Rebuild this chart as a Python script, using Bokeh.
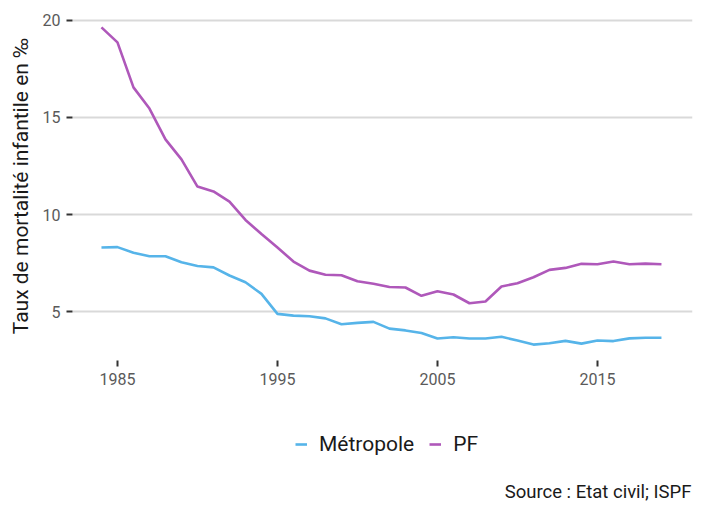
from bokeh.plotting import figure
from bokeh.layouts import column
from bokeh.models import Range1d, FixedTicker, Legend, LegendItem, Label
from bokeh.embed import file_html
from bokeh.resources import INLINE

years = list(range(1984, 2020))
pf = [19.64, 18.87, 16.55, 15.46, 13.87, 12.84, 11.44, 11.19, 10.67, 9.72,
      9.00, 8.30, 7.58, 7.11, 6.90, 6.87, 6.56, 6.43, 6.27, 6.24,
      5.81, 6.05, 5.88, 5.43, 5.52, 6.29, 6.46, 6.77, 7.15, 7.25,
      7.46, 7.44, 7.58, 7.44, 7.47, 7.44]
metro = [8.30, 8.32, 8.03, 7.85, 7.85, 7.54, 7.35, 7.28, 6.86, 6.51,
         5.91, 4.88, 4.79, 4.76, 4.65, 4.35, 4.42, 4.47, 4.12, 4.03,
         3.90, 3.61, 3.68, 3.61, 3.61, 3.70, 3.51, 3.30, 3.37, 3.49,
         3.35, 3.51, 3.48, 3.62, 3.65, 3.65]
x_ticks = [1985, 1995, 2005, 2015]
y_ticks = [5, 10, 15, 20]
series_names = ["Métropole", "PF"]
colors = ["#56B4E9", "#AF58BA"]
FONT = "Roboto"

xr = Range1d(1982.19, 2020.94)
yr = Range1d(2.48, 20.46)

p = figure(width=710, height=395, output_backend="svg", toolbar_location=None,
           x_range=xr, y_range=yr,
           min_border_left=72, min_border_right=18, min_border_top=11,
           min_border_bottom=35, outline_line_color=None)
p.background_fill_color = "white"
p.border_fill_color = "white"

p.line(years, metro, line_color=colors[0], line_width=2.6)
p.line(years, pf, line_color=colors[1], line_width=2.6)

p.xgrid.visible = False
p.ygrid.grid_line_color = "#d9d9d9"
p.ygrid.grid_line_width = 2
p.ygrid.ticker = FixedTicker(ticks=y_ticks)

for ax in (p.xaxis[0], p.yaxis[0]):
    ax.axis_line_color = None
    ax.major_tick_in = 0
    ax.major_tick_out = 6
    ax.major_tick_line_color = "#333333"
    ax.major_tick_line_width = 2
    ax.minor_tick_line_color = None
    ax.major_label_text_font = FONT
    ax.major_label_text_font_size = "16px"
    ax.major_label_text_color = "#5a5a5a"
    ax.major_label_standoff = 6

p.xaxis.ticker = FixedTicker(ticks=x_ticks)
p.yaxis.ticker = FixedTicker(ticks=y_ticks)
p.yaxis.axis_label = "Taux de mortalité infantile en ‰"
p.yaxis.axis_label_text_font = FONT
p.yaxis.axis_label_text_font_size = "21px"
p.yaxis.axis_label_text_font_style = "normal"
p.yaxis.axis_label_text_color = "#1a1a1a"
p.yaxis.axis_label_standoff = 7

# Legend / caption panel (same data, hidden lines used only for legend keys)
q = figure(width=710, height=110, output_backend="svg", toolbar_location=None,
           x_range=xr, y_range=yr, x_axis_type=None, y_axis_type=None,
           min_border_left=72, min_border_right=18, min_border_top=0,
           min_border_bottom=0, outline_line_color=None)
q.border_fill_color = "white"
q.background_fill_color = "white"
k1 = q.line(years, metro, line_color=colors[0], line_width=2.6, visible=False)
k2 = q.line(years, pf, line_color=colors[1], line_width=2.6, visible=False)

legend = Legend(items=[LegendItem(label=series_names[0], renderers=[k1]),
                       LegendItem(label=series_names[1], renderers=[k2])],
                orientation="horizontal", location=(223, 49),
                label_text_font=FONT, label_text_font_size="21px",
                label_text_color="#1a1a1a",
                glyph_width=12, glyph_height=20, label_standoff=12,
                spacing=15, border_line_color=None, background_fill_alpha=0,
                padding=3, margin=0)
q.add_layout(legend, "center")

src = Label(x=619, y=14, x_units="screen", y_units="screen",
            text="Source : Etat civil; ISPF", text_align="right",
            text_baseline="middle", text_font=FONT, text_font_size="18.5px",
            text_color="#1a1a1a")
q.add_layout(src)

open("out.html", "w").write(file_html(column(p, q, spacing=0), INLINE))
